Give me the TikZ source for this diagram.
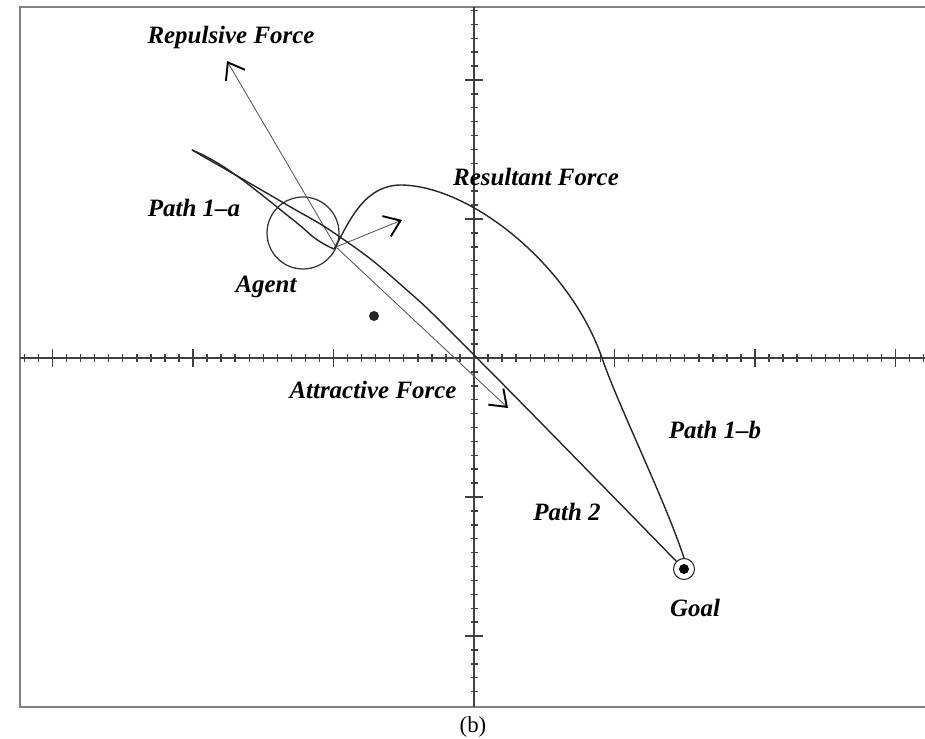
\documentclass[tikz,border=0pt]{standalone}
\usepackage{fontspec}
\setmainfont{Liberation Serif}
\usetikzlibrary{arrows.meta}

\tikzset{
  lbl/.style={font=\fontsize{14.2}{17}\selectfont\bfseries\itshape, inner sep=0pt},
  force/.style={gray!70!black, line width=0.5pt, -{Straight Barb[length=3mm,width=4.4mm,line width=1.1pt,color=black]}},
  pathline/.style={black!85, line width=0.8pt},
  axisline/.style={black!75, line width=1.1pt},
}

\begin{document}
\begin{tikzpicture}[x=0.02cm, y=-0.02cm]
\useasboundingbox (0,0) rectangle (925,739);
\draw[gray, line width=1pt] (925,7) -- (20,7) -- (20,707) -- (925,707);
\draw[axisline] (20,358) -- (925,358);
\draw[axisline] (474,7) -- (474,707);
\foreach \k in {-32,...,32} {
  \pgfmathtruncatemacro{\ismajor}{mod(abs(\k),10)==0}
  \ifnum\ismajor=1
    \draw[axisline, line width=0.8pt] (474+\k*14.05,349) -- ++(0,18);
  \else
    \draw[axisline, line width=0.8pt] (474+\k*14.05,354.5) -- ++(0,7);
  \fi
}
\foreach \k in {-25,...,24} {
  \pgfmathtruncatemacro{\ismajor}{mod(abs(\k),10)==0}
  \ifnum\ismajor=1
    \draw[axisline, line width=0.8pt] (465,358+\k*13.9) -- ++(18,0);
  \else
    \draw[axisline, line width=0.8pt] (470.5,358+\k*13.9) -- ++(7,0);
  \fi
}

\node[draw, circle, black!80, line width=0.7pt, minimum size=1.44cm, inner sep=0pt] (agent) at (303,233) {};
\node[fill, circle, black!85, minimum size=0.2cm, inner sep=0pt] (obstacle) at (374,316) {};
\node[draw, circle, black!85, line width=0.6pt, minimum size=0.42cm, inner sep=0pt] (goal) at (684,569) {};
\fill[black] (goal.center) circle[radius=5];

\coordinate (apos) at (336,247);
\coordinate (reptip) at (227,61);
\coordinate (restip) at (402,220);
\coordinate (atttip) at (508,408);
\coordinate (cusp) at (334,249);
\coordinate (start) at (192,150);
\draw[force] (apos) -- (reptip);
\draw[force] (apos) -- (restip);
\draw[force] (apos) -- (atttip);

\draw[pathline] plot[smooth, tension=0.75] coordinates {(start) (282,202) (340,237) (400,284) (477,358) (goal.north west)};
\draw[pathline] plot[smooth, tension=0.75] coordinates {(start) (230,171) (292,219) (316,239) (cusp)};
\draw[pathline] (cusp) .. controls (348,225) and (362,186) .. (400,185)
  .. controls (470,185) and (570,265) .. (602,358)
  .. controls (618,405) and (665,500) .. (goal.north);

\node[lbl] (replbl) at (231,38) {Repulsive Force};
\node[lbl] (reslbl) at (536,177) {Resultant Force};
\node[lbl] (pathalbl) at (194,208) {Path 1--a};
\node[lbl] (agentlbl) at (266,287) {Agent};
\node[lbl] (attlbl) at (373,390) {Attractive Force};
\node[lbl] (pathblbl) at (715,430) {Path 1--b};
\node[lbl] (path2lbl) at (567,512) {Path 2};
\node[lbl] (goallbl) at (695,608) {Goal};
\node[font=\fontsize{13}{15}\selectfont, inner sep=0pt] (caption) at (473,727) {(b)};
\end{tikzpicture}
\end{document}
